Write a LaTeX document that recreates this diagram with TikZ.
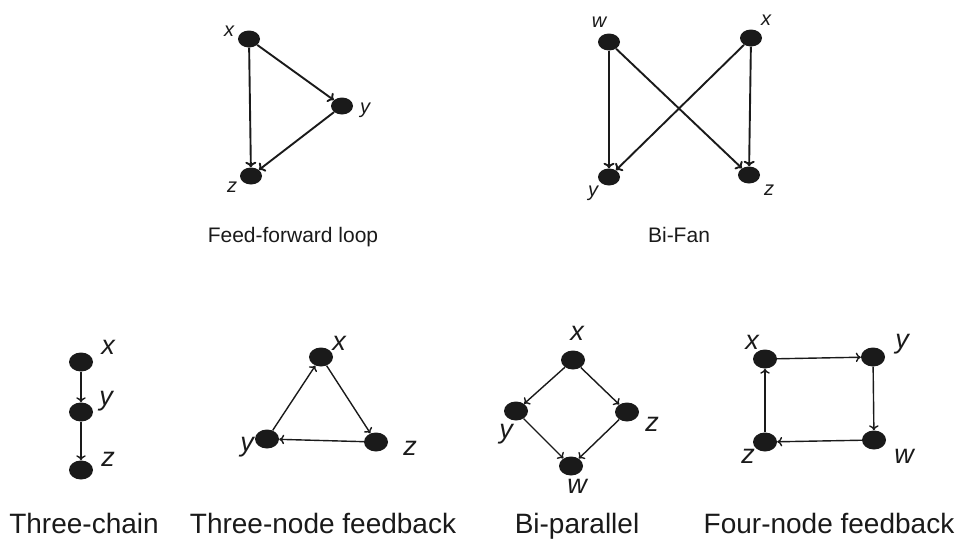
\documentclass[tikz,border=0pt]{standalone}
\usepackage{fontspec}
\setmainfont{Liberation Sans}
\usetikzlibrary{arrows.meta,shapes.geometric}
\definecolor{ink}{HTML}{1A1A1A}
\begin{document}
\begin{tikzpicture}[x=1pt,y=-1pt,
  dotA/.style={ellipse,fill=ink,draw=none,minimum width=22pt,minimum height=17pt,inner sep=0pt},
  dotB/.style={ellipse,fill=ink,draw=none,minimum width=24pt,minimum height=19pt,inner sep=0pt},
  labA/.style={inner sep=0pt,text=ink,font=\fontsize{20}{20}\selectfont\itshape},
  labB/.style={inner sep=0pt,text=ink,font=\fontsize{27}{27}\selectfont\itshape},
  capA/.style={inner sep=0pt,anchor=base,text=ink,font=\fontsize{21}{21}\selectfont},
  capB/.style={inner sep=0pt,anchor=base,text=ink,font=\fontsize{28}{28}\selectfont},
  edgeA/.style={draw=ink,line width=1.9pt,-{To[length=5.5pt,width=11pt]}},
  edgeB/.style={draw=ink,line width=1.4pt,-{To[length=5pt,width=9.5pt]}}]
\useasboundingbox (0,0) rectangle (958,538);
% Feed-forward loop
\node[dotA] (fx) at (249,39) {};
\node[dotA] (fy) at (342,106) {};
\node[dotA] (fz) at (251,176) {};
\node[labA] (lfx) at (229,31) {x};
\node[labA] (lfy) at (365,110) {y};
\node[labA] (lfz) at (232,187) {z};
\draw[edgeA] (fx) -- (fy);
\draw[edgeA] (fx) -- (fz);
\draw[edgeA] (fy) -- (fz);
\node[capA] (cf) at (293,242) {Feed-forward loop};
% Bi-Fan
\node[dotA] (bw) at (609,42) {};
\node[dotA] (bx) at (751,38) {};
\node[dotA] (by) at (609,177) {};
\node[dotA] (bz) at (749,175) {};
\node[labA] (lbw) at (599,22) {w};
\node[labA] (lbx) at (766,20) {x};
\node[labA] (lby) at (593,193) {y};
\node[labA] (lbz) at (769,190) {z};
\draw[edgeA] (bw) -- (by);
\draw[edgeA] (bw) -- (bz);
\draw[edgeA] (bx) -- (by);
\draw[edgeA] (bx) -- (bz);
\node[capA] (cb) at (679,242) {Bi-Fan};
% Three-chain
\node[dotB] (cx) at (81,362) {};
\node[dotB] (cy) at (81,412) {};
\node[dotB] (cz) at (81,470) {};
\node[labB] (lcx) at (108,347) {x};
\node[labB] (lcy) at (106,401) {y};
\node[labB] (lcz) at (108,459) {z};
\draw[edgeB] (cx) -- (cy);
\draw[edgeB] (cy) -- (cz);
\node[capB] (cc) at (84,533) {Three-chain};
% Three-node feedback
\node[dotB] (tx) at (321,357) {};
\node[dotB] (ty) at (267,439) {};
\node[dotB] (tz) at (376,442) {};
\node[labB] (ltx) at (339,343) {x};
\node[labB] (lty) at (247,447) {y};
\node[labB] (ltz) at (410,448) {z};
\draw[edgeB] (tx) -- (tz);
\draw[edgeB] (tz) -- (ty);
\draw[edgeB] (ty) -- (tx);
\node[capB] (ct) at (323,533) {Three-node feedback};
% Bi-parallel
\node[dotB] (px) at (573,360) {};
\node[dotB] (py) at (516,411) {};
\node[dotB] (pz) at (627,412) {};
\node[dotB] (pw) at (571,466) {};
\node[labB] (lpx) at (577,333) {x};
\node[labB] (lpy) at (506,434) {y};
\node[labB] (lpz) at (652,424) {z};
\node[labB] (lpw) at (577,486) {w};
\draw[edgeB] (px) -- (py);
\draw[edgeB] (px) -- (pz);
\draw[edgeB] (py) -- (pw);
\draw[edgeB] (pz) -- (pw);
\node[capB] (cp) at (577,533) {Bi-parallel};
% Four-node feedback
\node[dotB] (qx) at (765,359) {};
\node[dotB] (qy) at (873,357) {};
\node[dotB] (qz) at (765,442) {};
\node[dotB] (qw) at (874,440) {};
\node[labB] (lqx) at (752,342) {x};
\node[labB] (lqy) at (902,344) {y};
\node[labB] (lqz) at (748,456) {z};
\node[labB] (lqw) at (904,456) {w};
\draw[edgeB] (qx) -- (qy);
\draw[edgeB] (qy) -- (qw);
\draw[edgeB] (qw) -- (qz);
\draw[edgeB] (qz) -- (qx);
\node[capB] (cq) at (829,533) {Four-node feedback};
\end{tikzpicture}
\end{document}
